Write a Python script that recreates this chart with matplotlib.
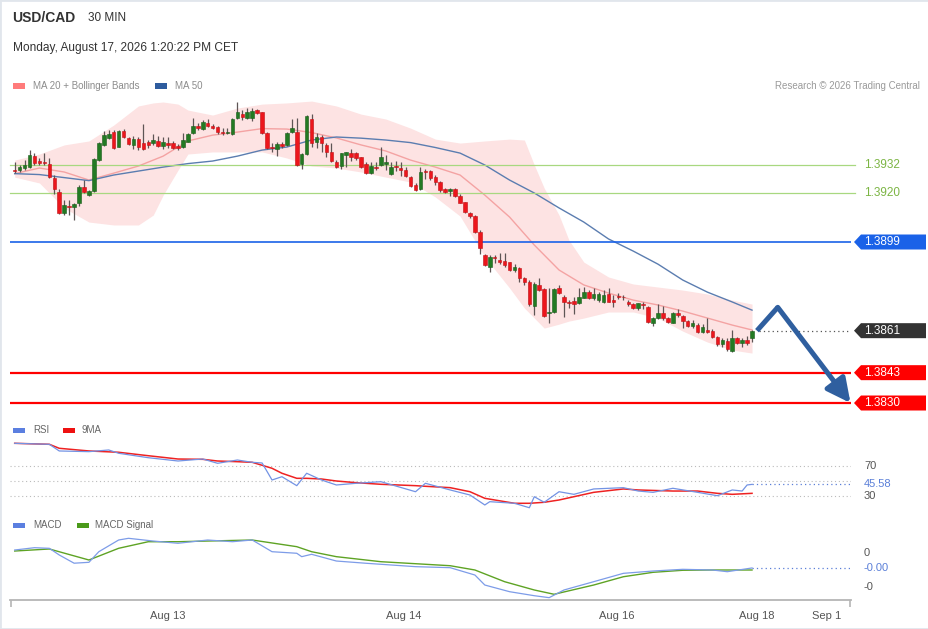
import numpy as np
import matplotlib
matplotlib.use("Agg")
import matplotlib.pyplot as plt
import matplotlib.transforms as mtransforms
from matplotlib.patches import Polygon, Rectangle

plt.rcParams['font.family'] = ['Liberation Sans', 'DejaVu Sans']

# prices are kept in pips above BASE
BASE = 1.3800
PIP = 0.0001

open_pips = [
    129.8, 129.8, 130.7, 131.3, 136.0, 133.7, 133.4, 132.3, 126.5, 120.5,
    111.3, 114.4, 113.9, 115.6, 122.7, 119.1, 121.0, 134.1, 140.6, 143.7,
    146.3, 139.8, 146.6, 143.4, 140.6, 143.0, 141.5, 142.0, 141.3, 142.4,
    140.1, 141.5, 141.5, 140.3, 139.6, 142.0, 145.6, 148.7, 147.3, 149.9,
    148.7, 148.4, 146.3, 145.8, 145.1, 152.0, 153.7, 152.0, 152.0, 155.6,
    154.6, 145.6, 139.8, 138.8, 140.9, 140.6, 146.0, 146.0, 132.3, 136.6,
    151.7, 142.0, 143.9, 140.6, 137.4, 133.4, 131.6, 136.3, 137.3, 137.3,
    135.3, 132.3, 128.4, 131.0, 132.0, 132.3, 128.0, 131.6, 130.7, 129.8,
    127.0, 123.4, 121.6, 129.5, 129.4, 127.0, 124.8, 121.7, 120.8, 121.7,
    118.8, 116.0, 111.5, 110.1, 103.1, 93.4, 88.1, 92.7, 91.3, 90.8,
    90.3, 87.0, 88.0, 83.4, 82.0, 71.7, 80.5, 78.8, 68.4, 68.8,
    79.1, 75.5, 73.4, 73.7, 72.7, 75.1, 77.4, 75.1, 74.1, 73.4,
    76.6, 74.1, 75.8, 75.5, 73.4, 72.4, 70.6, 72.4, 71.2, 64.4,
    66.3, 68.7, 66.3, 64.4, 68.4, 67.3, 65.1, 63.1, 63.4, 60.5,
    61.3, 61.0, 58.4, 55.3, 56.6, 52.4, 57.7, 55.6, 57.0, 57.7,
]
high_pips = [
    133.3, 132.0, 134.1, 138.4, 137.1, 135.0, 137.3, 135.1, 127.7, 121.7,
    117.0, 117.0, 115.7, 123.4, 125.6, 121.3, 134.9, 142.0, 146.7, 147.0,
    147.0, 147.0, 147.3, 144.1, 144.4, 144.1, 149.4, 142.7, 145.1, 144.4,
    144.1, 144.0, 142.3, 141.0, 145.6, 145.6, 152.0, 149.9, 151.3, 151.6,
    149.4, 148.8, 147.7, 148.0, 152.3, 158.9, 155.6, 156.5, 156.3, 156.0,
    154.8, 146.0, 141.3, 142.0, 142.0, 146.0, 151.7, 152.0, 137.0, 153.4,
    153.7, 145.6, 144.8, 141.3, 141.3, 134.1, 137.3, 137.7, 138.8, 137.7,
    135.5, 133.1, 133.4, 133.4, 139.6, 136.3, 133.1, 133.7, 133.1, 131.3,
    127.4, 124.1, 131.3, 130.1, 129.8, 127.7, 125.1, 122.0, 122.0, 122.0,
    119.4, 116.3, 112.0, 110.6, 104.1, 93.7, 93.4, 93.4, 94.1, 94.1,
    90.5, 89.4, 88.3, 84.1, 82.7, 81.7, 83.4, 79.1, 79.1, 79.4,
    80.5, 76.3, 74.1, 75.5, 79.4, 79.8, 78.4, 79.1, 77.7, 78.4,
    79.1, 76.3, 77.0, 76.3, 74.1, 73.0, 73.0, 73.1, 71.5, 67.0,
    72.3, 71.5, 67.0, 69.1, 70.1, 67.7, 65.6, 65.6, 64.1, 63.7,
    66.3, 61.6, 58.7, 57.7, 57.7, 61.3, 58.4, 57.7, 58.7, 61.3,
]
low_pips = [
    128.6, 129.0, 129.8, 130.7, 132.0, 132.0, 132.0, 126.3, 119.6, 111.0,
    110.6, 110.6, 108.4, 114.4, 120.0, 118.7, 120.5, 133.8, 140.1, 143.1,
    138.8, 139.6, 143.4, 140.6, 138.7, 138.4, 138.4, 139.1, 140.6, 139.6,
    138.7, 139.3, 138.7, 138.4, 139.1, 141.7, 145.3, 147.0, 146.9, 148.3,
    147.3, 145.1, 144.8, 145.1, 144.8, 151.7, 151.3, 151.6, 150.8, 153.7,
    145.1, 138.7, 137.7, 136.0, 139.4, 140.3, 145.6, 131.7, 130.3, 136.3,
    139.8, 139.4, 137.4, 135.5, 133.4, 130.6, 130.1, 131.3, 133.7, 134.1,
    130.6, 128.1, 128.1, 129.8, 131.7, 129.8, 127.7, 129.5, 127.3, 126.8,
    122.4, 120.8, 121.3, 126.0, 125.6, 123.4, 120.4, 120.0, 118.8, 118.4,
    115.6, 111.3, 109.4, 102.7, 93.7, 88.8, 86.3, 89.8, 89.4, 88.4,
    86.6, 86.3, 81.7, 80.5, 71.7, 67.7, 78.0, 67.0, 64.1, 68.4,
    76.6, 67.0, 70.6, 68.0, 72.3, 74.9, 74.5, 74.1, 73.4, 72.7,
    73.1, 71.3, 74.4, 74.1, 71.6, 70.1, 69.8, 70.1, 64.1, 63.0,
    65.9, 65.6, 64.1, 64.1, 67.0, 62.0, 62.4, 62.0, 60.1, 59.8,
    60.1, 57.7, 54.4, 54.1, 52.4, 52.0, 55.3, 54.1, 54.8, 56.3,
]
close_pips = [
    129.4, 131.3, 132.0, 136.3, 132.7, 133.0, 132.7, 126.7, 121.6, 111.3,
    114.8, 114.0, 115.3, 122.7, 120.5, 120.8, 134.4, 141.5, 144.8, 145.1,
    139.1, 146.6, 144.1, 141.0, 143.0, 139.8, 138.7, 140.6, 142.7, 140.1,
    142.0, 140.6, 139.1, 139.4, 142.7, 145.1, 148.7, 147.7, 150.5, 148.7,
    147.7, 146.0, 145.8, 146.3, 151.7, 154.6, 152.7, 154.8, 155.1, 154.1,
    145.6, 139.1, 139.1, 140.9, 140.1, 145.6, 147.7, 132.0, 136.6, 153.0,
    141.3, 144.1, 141.3, 137.4, 133.7, 131.3, 137.0, 137.4, 135.5, 135.1,
    131.3, 128.4, 131.6, 130.6, 135.5, 133.1, 131.3, 131.0, 129.8, 127.3,
    123.0, 121.3, 129.1, 129.1, 126.3, 124.6, 121.3, 120.5, 121.7, 118.8,
    115.8, 111.7, 110.1, 103.1, 96.3, 89.1, 92.7, 92.0, 90.5, 89.1,
    87.0, 88.4, 83.7, 82.0, 72.3, 80.8, 78.4, 67.4, 69.1, 78.8,
    77.0, 73.1, 72.7, 72.3, 75.5, 77.7, 75.1, 76.6, 76.6, 76.3,
    73.4, 73.1, 75.5, 75.3, 72.3, 70.6, 72.7, 72.0, 64.8, 66.3,
    68.7, 66.3, 64.8, 68.4, 67.7, 65.2, 63.0, 64.4, 60.5, 62.7,
    60.5, 58.1, 55.3, 57.0, 53.0, 57.7, 55.8, 57.0, 55.6, 61.0,
]

# moving averages (candle index, pips)
ma_idx = [0, 5, 10, 15, 20, 25, 30, 35, 40, 45, 50, 55, 60, 65, 70, 75,
          80, 85, 90, 95, 100, 105, 110, 115, 120, 125, 130, 135, 140, 145, 149]
ma20_pips = [128.3, 130.7, 129.0, 125.55, 128.5, 131.55, 135.8, 142.3, 144.8, 146.1,
             147.6, 147.4, 145.9, 143.6, 140.6, 138.0, 134.1, 131.1, 127.7, 119.1,
             109.7, 97.7, 87.0, 80.6, 77.1, 74.1, 72.0, 69.4, 66.4, 63.4, 61.3]
ma50_pips = [128.3, 127.9, 126.6, 125.3, 127.7, 129.4, 131.1, 132.6, 133.7, 135.8,
             138.4, 139.7, 142.7, 144.0, 143.5, 142.7, 141.6, 139.5, 137.1, 132.0,
             125.55, 120.0, 113.6, 107.55, 100.3, 95.1, 89.5, 82.7, 77.5, 73.3, 69.8]

bb_idx = [0, 5, 10, 15, 20, 25, 28, 30, 33, 35, 40, 45, 50, 55, 60, 65, 70, 75,
          80, 85, 90, 95, 100, 103, 105, 107, 110, 112, 115, 120, 125, 130, 135,
          140, 145, 149]
bb_upper_pips = [134.1, 136.7, 140.6, 142.3, 149.1, 157.3, 158.6, 159.0, 158.1, 155.55,
                 153.4, 156.4, 158.1, 158.6, 159.4, 157.3, 153.8, 151.7, 147.8, 143.1,
                 141.4, 142.3, 143.1, 142.7, 132.0, 122.1, 110.55, 99.8, 90.4, 84.0,
                 81.0, 79.7, 78.4, 76.7, 74.1, 72.4]
bb_lower_pips = [126.8, 124.3, 113.55, 107.55, 106.3, 106.3, 110.55, 119.1, 129.8, 136.7,
                 137.6, 137.6, 137.6, 135.0, 131.55, 130.7, 129.0, 126.8, 124.7, 118.3,
                 110.1, 92.55, 79.3, 70.7, 66.4, 62.1, 63.8, 65.1, 66.4, 69.0,
                 69.0, 66.4, 60.8, 56.1, 52.7, 51.4]

# key levels
resist_green = [1.3932, 1.3920]
pivot_level = 1.3899
last_price = 1.3861
support_red = [1.3843, 1.3830]

# forecast arrow (candle index, price)
arrow_idx = [150, 154.2, 168.9]
arrow_price = [1.3861, 1.3871, 1.3830]

# RSI and its 9 period MA
rsi_idx = [0, 7, 9, 15, 19, 21, 27, 33, 38, 41, 45, 48, 50, 52, 54, 57, 59, 62, 65, 69,
           74, 81, 83, 88, 92, 95, 96, 101, 104, 105, 107, 110, 113, 117, 123, 126, 129,
           133, 138, 142, 145, 147, 148, 149]
rsi_val = [99.2, 97.9, 89.2, 88.3, 90.5, 86.2, 80.4, 76.1, 78.7, 73.1, 77.4, 74.4, 73.5,
           51.3, 55.6, 43.9, 60.1, 51.3, 44.8, 47.0, 49.1, 36.0, 47.0, 38.3, 31.7, 18.7,
           23.0, 20.9, 15.1, 29.5, 22.2, 36.0, 32.6, 39.6, 41.3, 36.9, 35.2, 40.5, 35.2,
           30.8, 38.3, 36.9, 44.8, 45.58]
rsi_ma_idx = [0, 7, 9, 15, 21, 27, 33, 38, 41, 45, 48, 52, 54, 57, 59, 62, 65, 69, 74, 81,
              83, 88, 92, 95, 101, 104, 107, 110, 113, 117, 123, 126, 133, 138, 142, 145, 149]
rsi_ma_val = [99.2, 97.9, 92.7, 89.2, 87.5, 83.0, 78.7, 78.3, 76.1, 75.2, 74.4, 66.6, 60.1,
              53.5, 53.5, 52.6, 50.0, 47.8, 45.7, 43.9, 43.1, 41.3, 36.0, 27.4, 20.9, 20.9,
              22.2, 25.2, 29.5, 35.2, 39.6, 38.3, 36.9, 36.9, 33.9, 32.6, 33.9]

# MACD (values x 1e-4)
macd_idx = [0, 4, 7, 9, 12, 15, 17, 21, 23, 28, 33, 39, 44, 48, 52, 57, 58, 60, 65, 71,
            81, 88, 93, 95, 100, 105, 108, 111, 117, 123, 129, 135, 141, 144, 149]
macd_val = [0.44, 0.78, 0.69, -0.29, -1.5, -1.37, 0.19, 1.91, 2.16, 1.76, 1.43, 1.91, 1.66,
            1.91, 0.19, -0.04, -0.54, -0.19, -1.18, -1.51, -2.01, -2.16, -3.24, -4.71,
            -5.69, -6.28, -6.57, -5.44, -4.22, -2.99, -2.65, -2.40, -2.50, -2.75, -2.2]
signal_idx = [0, 7, 15, 21, 27, 33, 48, 57, 60, 65, 74, 88, 93, 99, 105, 109, 117, 123,
              129, 135, 141, 149]
signal_val = [0.29, 0.59, -1.03, 0.69, 1.66, 1.66, 1.91, 0.93, 0.19, -0.54, -1.28, -1.87,
              -2.5, -4.22, -5.44, -6.07, -4.71, -3.49, -2.84, -2.54, -2.5, -2.5]

tick_pos = [31, 78.7, 121.7, 150, 164]
tick_labels = ['Aug 13', 'Aug 14', 'Aug 16', 'Aug 18', 'Sep 1']


def px(p):
    return BASE + np.asarray(p) * PIP


W, H = 929, 629
fig = plt.figure(figsize=(W / 100, H / 100), dpi=100)
fig.patch.set_facecolor('white')


def add_ax(x0, y0, x1, y1):
    ax = fig.add_axes([x0 / W, 1 - y1 / H, (x1 - x0) / W, (y1 - y0) / H])
    ax.set_facecolor('none')
    for s in ax.spines.values():
        s.set_visible(False)
    ax.set_xticks([])
    ax.set_yticks([])
    return ax


def ftext(x, y, s, **kw):
    fig.text(x / W, 1 - y / H, s, va='center', **kw)


def swatch(x, y, color):
    fig.add_artist(Rectangle((x / W, 1 - (y + 2.5) / H), 12 / W, 5 / H,
                             transform=fig.transFigure, fc=color, ec='none'))


XL = (-0.95, 169.0)
LABEL_X = (864 - 10) / 841

# ---- main price pane ----
ax = add_ax(10, 95, 851, 415)
ax.set_xlim(*XL)
ax.set_ylim(1.382486, 1.396200)

ax.fill_between(bb_idx, px(bb_upper_pips), px(bb_lower_pips), color='#fde3e3', lw=0, zorder=1)
ax.plot(ma_idx, px(ma20_pips), color='#f4a3a3', lw=1.0, zorder=2)
ax.plot(ma_idx, px(ma50_pips), color='#5b7db0', lw=1.0, zorder=2)

ytr = ax.get_yaxis_transform()
for lv in resist_green:
    ax.plot([0, 1.005], [lv, lv], transform=ytr, color='#a8d880', lw=0.9, zorder=2, clip_on=False)
    ax.text(LABEL_X, lv, f'{lv:.4f}', transform=ytr, color='#7cb544', fontsize=8.5,
            va='center', clip_on=False)
ax.axhline(pivot_level, color='#1a62e8', lw=1.2, zorder=2)
for lv in support_red:
    ax.axhline(lv, color='#ff0000', lw=1.6, zorder=2)

o = px(open_pips)
h = px(high_pips)
l = px(low_pips)
c = px(close_pips)
idx = np.arange(len(c))
up = c >= o
ax.vlines(idx, l, h, color='#5e5555', lw=0.9, zorder=3)
body = np.maximum(np.abs(c - o), 0.000012)
ax.bar(idx[up], body[up], bottom=np.minimum(o, c)[up], width=0.72,
       color='#237a23', edgecolor='#1a5c1a', lw=0.4, zorder=4)
ax.bar(idx[~up], body[~up], bottom=np.minimum(o, c)[~up], width=0.72,
       color='#ec161c', edgecolor='#c01015', lw=0.4, zorder=4)

ax.plot([len(c) + 0.5, XL[1]], [last_price, last_price], color='#555555', lw=0.9,
        ls=(0, (1, 2.5)), zorder=2)

ax.plot(arrow_idx[:2], arrow_price[:2], color='#2f5f9f', lw=3.6, zorder=6,
        solid_capstyle='butt', clip_on=False)
ax.annotate('', xy=(arrow_idx[2], arrow_price[2]), xytext=(arrow_idx[1], arrow_price[1]),
            arrowprops=dict(arrowstyle='-|>,head_length=0.9,head_width=0.45', color='#2f5f9f',
                            lw=3.6, shrinkA=0, shrinkB=0, mutation_scale=16),
            zorder=6, annotation_clip=False)


def tag(level, text, color):
    y = ax.transData.transform((0, level))[1]
    x0, x1, hh = 854, 926, 7.5
    pts = [(x0, y), (x0 + 7, y + hh), (x1, y + hh), (x1, y - hh), (x0 + 7, y - hh)]
    ax.add_patch(Polygon(pts, closed=True, transform=mtransforms.IdentityTransform(),
                         fc=color, ec='none', zorder=8, clip_on=False))
    ax.text(LABEL_X, level, text, transform=ytr, color='white', fontsize=8.5,
            va='center', clip_on=False, zorder=9)


tag(pivot_level, f'{pivot_level:.4f}', '#1a62e8')
tag(last_price, f'{last_price:.4f}', '#333333')
for lv in support_red:
    tag(lv, f'{lv:.4f}', '#ff0000')

# ---- RSI pane ----
rax = add_ax(10, 425, 851, 512)
rax.set_xlim(*XL)
rax.set_ylim(9.53, 123.1)
for lv in (70, 50, 30):
    rax.axhline(lv, color='#bbbbbb', lw=0.8, ls=(0, (1, 2.5)))
rax.plot(rsi_ma_idx, rsi_ma_val, color='#ee2222', lw=1.1)
rax.plot(rsi_idx, rsi_val, color='#7393e4', lw=0.9)
rax.plot([rsi_idx[-1], XL[1]], [rsi_val[-1]] * 2, color='#5a7fd8', lw=0.9, ls=(0, (1, 2.5)))
rtr = rax.get_yaxis_transform()
for lv in (70, 30):
    rax.text(LABEL_X, lv, str(lv), transform=rtr, color='#555555', fontsize=8, va='center')
rax.text(LABEL_X, rsi_val[-1], f'{rsi_val[-1]:.2f}', transform=rtr, color='#5a7fd8',
         fontsize=8, va='center')

# ---- MACD pane ----
mscale = 1e-4
max_ = add_ax(10, 515, 851, 600)
max_.set_xlim(*XL)
max_.set_ylim(-6.912 * mscale, 5.588 * mscale)
max_.plot(signal_idx, np.array(signal_val) * mscale, color='#5ea324', lw=1.0)
max_.plot(macd_idx, np.array(macd_val) * mscale, color='#7d9ce8', lw=0.9)
max_.plot([macd_idx[-1], XL[1]], [macd_val[-1] * mscale] * 2, color='#5a7fd8', lw=0.9,
          ls=(0, (1, 2.5)))
mtr = max_.get_yaxis_transform()
max_.text(LABEL_X, 0, '0', transform=mtr, color='#555555', fontsize=8, va='center')
max_.text(LABEL_X, macd_val[-1] * mscale, f'{macd_val[-1] * mscale:.2f}', transform=mtr,
          color='#5a7fd8', fontsize=8, va='center')
max_.text(LABEL_X, -5 * mscale, '-0', transform=mtr, color='#555555', fontsize=8, va='center')

# bottom time axis
max_.spines['bottom'].set_visible(True)
max_.spines['bottom'].set_color('#b5b5b5')
max_.spines['bottom'].set_linewidth(1.3)
max_.set_xticks([XL[0] + 0.2, XL[1] - 0.2])
max_.set_xticklabels([])
max_.tick_params(axis='x', which='major', length=5, width=1.2, color='#b5b5b5')
max_.set_xticks(tick_pos, minor=True)
max_.set_xticklabels(tick_labels, minor=True)
max_.tick_params(axis='x', which='minor', length=0, pad=8, labelsize=8, labelcolor='#555555')

# ---- header texts and legends ----
ftext(12, 18, 'USD/CAD', fontsize=10, fontweight='bold', color='#333333')
ftext(88, 18, '30 MIN', fontsize=8.5, color='#333333')
ftext(13, 48, 'Monday, August 17, 2026 1:20:22 PM CET', fontsize=8.6, color='#333333')

swatch(13, 86, '#ff7b7b')
ftext(33, 86, 'MA 20 + Bollinger Bands', fontsize=7, color='#8c8c8c')
swatch(155, 86, '#2e5c9e')
ftext(175, 86, 'MA 50', fontsize=7, color='#8c8c8c')
fig.text(920 / W, 1 - 86 / H, 'Research \u00a9 2026 Trading Central', fontsize=7,
         color='#9a9a9a', ha='right', va='center')

swatch(13, 430, '#5b7fe0')
ftext(33, 430, 'RSI', fontsize=7, color='#666666')
swatch(63, 430, '#ee1111')
ftext(82, 430, '9MA', fontsize=7, color='#666666')
swatch(13, 525, '#5b7fe0')
ftext(33, 525, 'MACD', fontsize=7, color='#666666')
swatch(77, 525, '#4a9a1a')
ftext(95, 525, 'MACD Signal', fontsize=7, color='#666666')

fig.add_artist(Rectangle((0, 0), 1, 1, transform=fig.transFigure, fill=False,
                         ec='#e1e6ec', lw=2))

fig.savefig('out.png', dpi=100)
